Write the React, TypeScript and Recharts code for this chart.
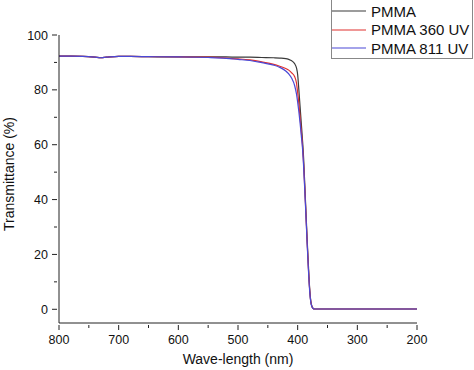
import { LineChart, Line, XAxis, YAxis, Label } from "recharts";

// wavelengths (nm), shared by all three curves
const wavelength = [
  800, 780, 760, 740, 730, 720, 700, 680, 650, 600, 550, 520, 500, 480, 460, 440, 430, 420, 415, 410,
  405, 402, 400, 398, 396, 394, 392, 390, 388, 386, 384, 382, 380, 378, 376, 374, 372, 370, 350, 300,
  250, 200,
];

const pmma = [
  92.3, 92.3, 92.2, 91.9, 91.7, 91.9, 92.2, 92.2, 92.1, 92.0, 92.0, 92.0, 91.9, 91.9, 91.8, 91.7, 91.6,
  91.4, 91.1, 90.6, 89.5, 88.0, 85.5, 80.0, 74.0, 68.0, 62.0, 55.0, 45.0, 35.0, 25.0, 16.0, 8.0, 3.0,
  1.0, 0.3, 0.1, 0.1, 0.1, 0.1, 0.1, 0.1,
];

const pmma360 = [
  92.3, 92.3, 92.2, 91.9, 91.7, 91.9, 92.2, 92.2, 92.1, 92.0, 91.9, 91.6, 91.3, 90.9, 90.2, 89.3, 88.6,
  87.8, 87.2, 86.2, 84.8, 82.5, 79.0, 75.0, 70.0, 65.0, 60.0, 53.0, 44.0, 34.0, 24.0, 15.0, 7.5, 2.8,
  1.0, 0.3, 0.1, 0.1, 0.1, 0.1, 0.1, 0.1,
];

const pmma811 = [
  92.3, 92.3, 92.2, 91.9, 91.7, 91.9, 92.2, 92.2, 92.1, 92.0, 91.8, 91.5, 91.1, 90.7, 89.9, 89.0, 88.2,
  86.9, 85.8, 84.2, 81.5, 78.5, 75.5, 72.0, 68.0, 63.5, 59.0, 52.0, 43.0, 33.5, 23.5, 14.5, 7.0, 2.6,
  0.9, 0.3, 0.1, 0.1, 0.1, 0.1, 0.1, 0.1,
];

const xTicks = [800, 750, 700, 650, 600, 550, 500, 450, 400, 350, 300, 250, 200];
const yTicks = [0, 10, 20, 30, 40, 50, 60, 70, 80, 90, 100];

const series = [
  { key: "pmma", name: "PMMA", color: "#3a3a3a" },
  { key: "pmma360", name: "PMMA 360 UV", color: "#e0302e" },
  { key: "pmma811", name: "PMMA 811 UV", color: "#4a48d6" },
];

const data = wavelength.map((wl, i) => ({
  wl,
  pmma: pmma[i],
  pmma360: pmma360[i],
  pmma811: pmma811[i],
}));

const FONT = "Arial, 'Liberation Sans', sans-serif";
const AXIS = "#222";

function XTick({ x, y, payload }: any) {
  const major = payload.value % 100 === 0;
  return (
    <g>
      <line x1={x} x2={x} y1={y} y2={y + (major ? 5 : 3)} stroke={AXIS} />
      {major && (
        <text x={x} y={y + 19} textAnchor="middle" fontSize={12.5} fill="#111" fontFamily={FONT}>
          {payload.value}
        </text>
      )}
    </g>
  );
}

function YTick({ x, y, payload }: any) {
  const major = payload.value % 20 === 0;
  return (
    <g>
      <line x1={x - (major ? 5 : 3)} x2={x} y1={y} y2={y} stroke={AXIS} />
      {major && (
        <text x={x - 9} y={y + 4.5} textAnchor="end" fontSize={12.5} fill="#111" fontFamily={FONT}>
          {payload.value}
        </text>
      )}
    </g>
  );
}

function LegendBox() {
  return (
    <div
      style={{
        position: "absolute",
        left: 331,
        top: 0,
        width: 142,
        height: 59,
        border: "1px solid #888",
        borderTop: "none",
        background: "#fff",
        fontFamily: FONT,
        fontSize: 15,
        color: "#111",
        boxSizing: "border-box",
        paddingTop: 2,
      }}
    >
      {series.map((s) => (
        <div key={s.key} style={{ display: "flex", alignItems: "center", height: 18.5 }}>
          <svg width={34} height={4} style={{ marginRight: 5, display: "block" }}>
            <line x1={0} x2={34} y1={2} y2={2} stroke={s.color} strokeWidth={1.2} />
          </svg>
          <span>{s.name}</span>
        </div>
      ))}
    </div>
  );
}

export default function App() {
  return (
    <div style={{ position: "absolute", left: 0, top: 0, width: 474, height: 370, background: "#fff" }}>
      <LineChart width={474} height={370} data={data} margin={{ top: 35, right: 57, bottom: 0, left: 0 }}>
        <XAxis
          dataKey="wl"
          type="number"
          domain={[200, 800]}
          reversed
          ticks={xTicks}
          interval={0}
          height={47}
          tickSize={0}
          tickLine={false}
          tick={<XTick />}
          axisLine={{ stroke: AXIS }}
        >
          <Label
            content={() => (
              <text x={238} y={364} textAnchor="middle" fontSize={14} fill="#111" fontFamily={FONT}>
                Wave-length (nm)
              </text>
            )}
          />
        </XAxis>
        <YAxis
          type="number"
          domain={[-5, 100]}
          ticks={yTicks}
          interval={0}
          width={59}
          tickSize={0}
          tickLine={false}
          tick={<YTick />}
          axisLine={{ stroke: AXIS }}
        >
          <Label
            content={() => (
              <text
                x={14}
                y={174}
                textAnchor="middle"
                fontSize={14}
                fill="#111"
                fontFamily={FONT}
                transform="rotate(-90 14 174)"
              >
                Transmittance (%)
              </text>
            )}
          />
        </YAxis>
        {series.map((s) => (
          <Line
            key={s.key}
            dataKey={s.key}
            name={s.name}
            type="monotone"
            stroke={s.color}
            strokeWidth={1.2}
            dot={false}
            isAnimationActive={false}
          />
        ))}
      </LineChart>
      <LegendBox />
    </div>
  );
}
